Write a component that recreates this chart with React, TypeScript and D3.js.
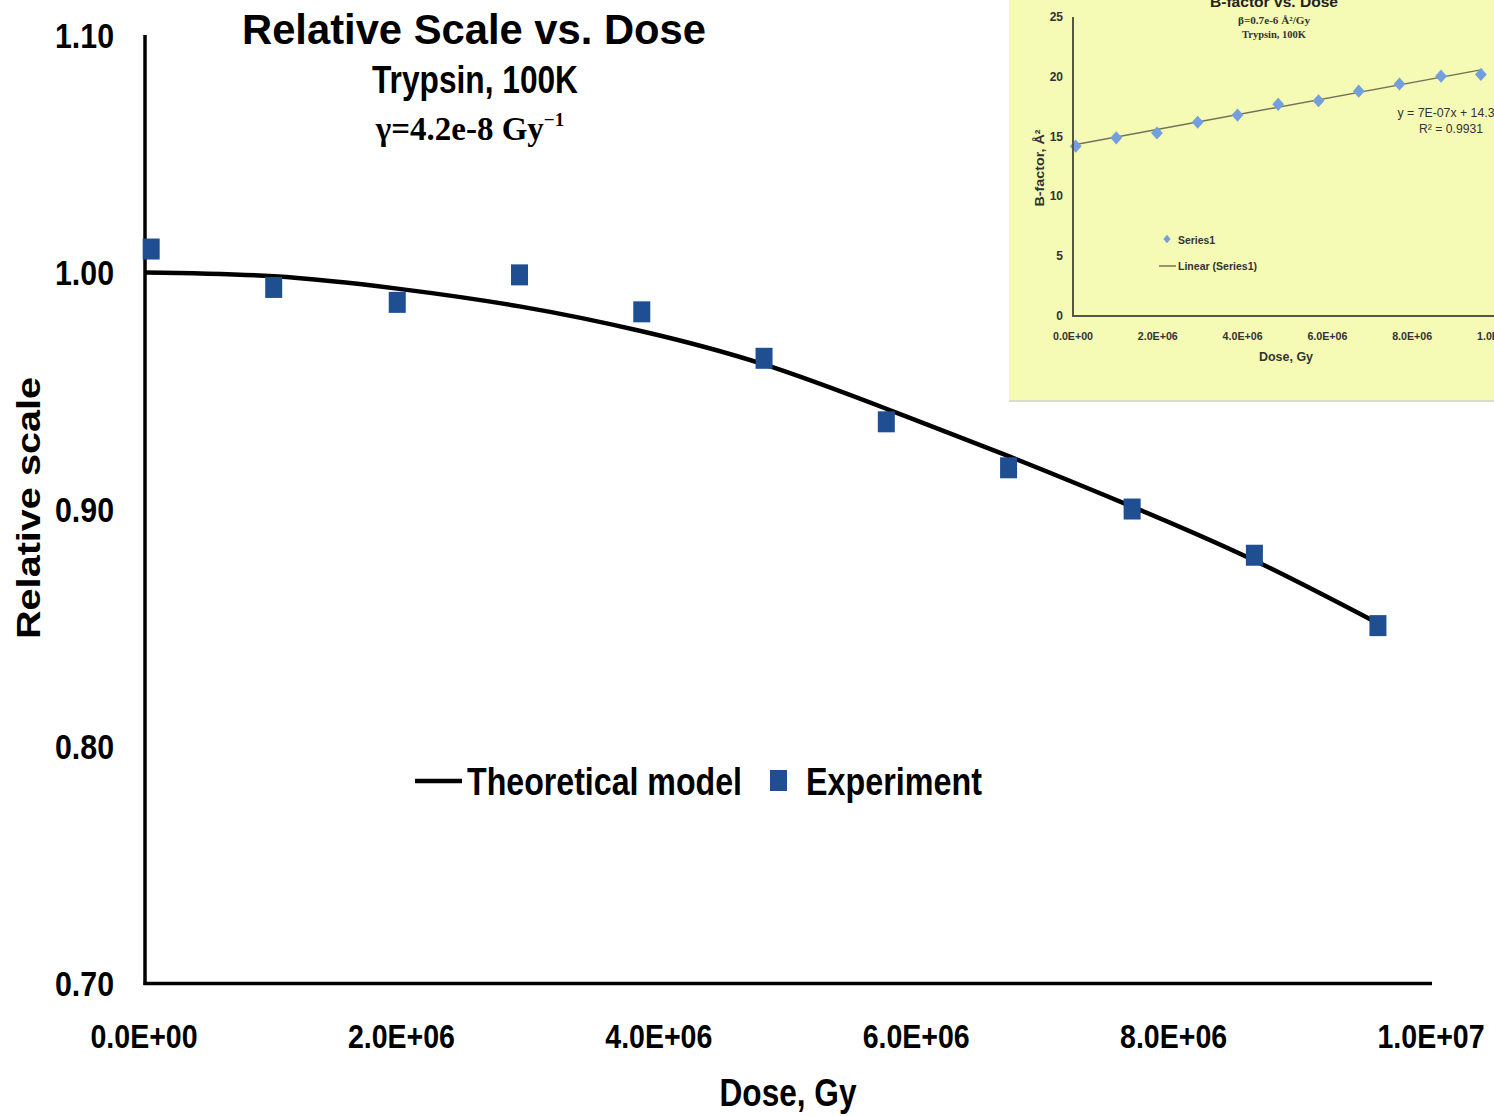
import React from "react";
import * as d3 from "d3";

// ---- Main chart data ----
const expDoses = [0.048e6, 1.0e6, 1.96e6, 2.91e6, 3.86e6, 4.81e6, 5.76e6, 6.71e6, 7.67e6, 8.62e6, 9.58e6];
const expValues = [1.0099, 0.9937, 0.9874, 0.999, 0.9834, 0.9638, 0.937, 0.9176, 0.9002, 0.8807, 0.851];
const modelDoses = [0, 1.0e6, 1.96e6, 2.91e6, 3.86e6, 4.81e6, 5.76e6, 6.71e6, 7.67e6, 8.62e6, 9.58e6];
const modelValues = [1.0, 0.9984, 0.9932, 0.9857, 0.9752, 0.9612, 0.9425, 0.9225, 0.9012, 0.8785, 0.852];
const yTicks = [0.7, 0.8, 0.9, 1.0, 1.1];
const xTicks = [0, 2e6, 4e6, 6e6, 8e6, 1e7];

// ---- Inset chart data ----
const insetDoses = [0.064e6, 1.02e6, 1.98e6, 2.94e6, 3.88e6, 4.84e6, 5.79e6, 6.74e6, 7.7e6, 8.68e6, 9.62e6];
const insetB = [14.2, 14.9, 15.3, 16.2, 16.8, 17.7, 18.0, 18.8, 19.4, 20.05, 20.2];
const trendDoses = [0, 9.65e6];
const trendB = [14.3, 20.6];
const insetYTicks = [0, 5, 10, 15, 20, 25];
const insetXTicks = [0, 2e6, 4e6, 6e6, 8e6, 1e7];

const fmtE = (v: number) => {
  const s = v.toExponential(1).toUpperCase();
  const m = s.match(/^(-?[\d.]+)E([+-])(\d+)$/);
  if (!m) return s;
  return `${m[1]}E${m[2]}${m[3].padStart(2, "0")}`;
};

const SANS = "'Liberation Sans', Arial, sans-serif";
const SERIF = "'Liberation Serif', 'Times New Roman', serif";

export default function App() {
  const W = 1494, H = 1116;
  const x = d3.scaleLinear().domain([0, 1e7]).range([145, 1432]);
  const y = d3.scaleLinear().domain([0.7, 1.1]).range([983.5, 35.5]);

  const model = modelDoses.map((d, i) => [d, modelValues[i]] as [number, number]);
  const line = d3
    .line<[number, number]>()
    .x((d) => x(d[0]))
    .y((d) => y(d[1]))
    .curve(d3.curveNatural);

  const xi = d3.scaleLinear().domain([0, 1e7]).range([1073, 1497]);
  const yi = d3.scaleLinear().domain([0, 25]).range([316, 17]);
  const trend = trendDoses.map((d, i) => [d, trendB[i]] as [number, number]);
  const iline = d3
    .line<[number, number]>()
    .x((d) => xi(d[0]))
    .y((d) => yi(d[1]));
  const diamond = d3.symbol().type(d3.symbolDiamond).size(50)();
  const smallDiamond = d3.symbol().type(d3.symbolDiamond).size(20)();

  return (
    <svg
      width={W}
      height={H}
      viewBox={`0 0 ${W} ${H}`}
      style={{ position: "absolute", left: 0, top: 0, display: "block", background: "#fff" }}
    >
      <rect x={0} y={0} width={W} height={H} fill="#fff" />

      {/* ---- Inset ---- */}
      <g>
        <rect x={1009} y={-2} width={490} height={402} fill="#F5FAB4" />
        <line x1={1009} x2={1494} y1={401} y2={401} stroke="#dcdccc" strokeWidth={2} />
        <text x={1274} y={7} textAnchor="middle" fontFamily={SANS} fontWeight="bold" fontSize={15} fill="#222" textLength={128} lengthAdjust="spacingAndGlyphs">
          B-factor vs. Dose
        </text>
        <text x={1274} y={24} textAnchor="middle" fontFamily={SERIF} fontWeight="bold" fontSize={10} fill="#333" textLength={72} lengthAdjust="spacingAndGlyphs">
          β=0.7e-6 Å²/Gy
        </text>
        <text x={1274} y={38} textAnchor="middle" fontFamily={SERIF} fontWeight="bold" fontSize={10} fill="#333" textLength={64} lengthAdjust="spacingAndGlyphs">
          Trypsin, 100K
        </text>
        {insetYTicks.map((t) => (
          <text key={t} x={1063} y={yi(t) + 4} textAnchor="end" fontFamily={SANS} fontWeight="bold" fontSize={12} fill="#333">
            {t}
          </text>
        ))}
        {insetXTicks.map((t) => (
          <text key={t} x={xi(t)} y={340} textAnchor="middle" fontFamily={SANS} fontWeight="bold" fontSize={11} fill="#333" textLength={40} lengthAdjust="spacingAndGlyphs">
            {fmtE(t)}
          </text>
        ))}
        <text x={1286} y={361} textAnchor="middle" fontFamily={SANS} fontWeight="bold" fontSize={13} fill="#333" textLength={54} lengthAdjust="spacingAndGlyphs">
          Dose, Gy
        </text>
        <text transform="translate(1044,168) rotate(-90)" textAnchor="middle" fontFamily={SANS} fontWeight="bold" fontSize={12} fill="#333" textLength={77} lengthAdjust="spacingAndGlyphs">
          B-factor, Å²
        </text>
        <path d={iline(trend) || ""} fill="none" stroke="#72725c" strokeWidth={1.5} />
        {insetDoses.map((d, i) => (
          <path key={i} d={diamond || ""} transform={`translate(${xi(d)},${yi(insetB[i])}) scale(1.55,1)`} fill="#72A0DE" />
        ))}
        <line x1={1073} x2={1073} y1={17} y2={316} stroke="#55554a" strokeWidth={2} />
        <line x1={1072} x2={1494} y1={316} y2={316} stroke="#55554a" strokeWidth={2} />
        <text x={1446} y={117} textAnchor="middle" fontFamily={SANS} fontSize={12.5} fill="#333" textLength={97} lengthAdjust="spacingAndGlyphs">
          y = 7E-07x + 14.3
        </text>
        <text x={1451} y={133} textAnchor="middle" fontFamily={SANS} fontSize={12.5} fill="#333" textLength={64} lengthAdjust="spacingAndGlyphs">
          R² = 0.9931
        </text>
        {/* inset legend */}
        <path d={smallDiamond || ""} transform="translate(1167,239) scale(1.5,1)" fill="#72A0DE" />
        <text x={1178} y={244} fontFamily={SANS} fontWeight="bold" fontSize={11} fill="#333" textLength={37} lengthAdjust="spacingAndGlyphs">
          Series1
        </text>
        <line x1={1159} x2={1176} y1={266} y2={266} stroke="#72725c" strokeWidth={1.5} />
        <text x={1178} y={270} fontFamily={SANS} fontWeight="bold" fontSize={11} fill="#333" textLength={79} lengthAdjust="spacingAndGlyphs">
          Linear (Series1)
        </text>
      </g>

      {/* ---- Main titles ---- */}
      <text x={474} y={44} textAnchor="middle" fontFamily={SANS} fontWeight="bold" fontSize={43} fill="#000" textLength={464} lengthAdjust="spacingAndGlyphs">
        Relative Scale vs. Dose
      </text>
      <text x={475} y={93} textAnchor="middle" fontFamily={SANS} fontWeight="bold" fontSize={38} fill="#000" textLength={206} lengthAdjust="spacingAndGlyphs">
        Trypsin, 100K
      </text>
      <text x={470} y={140} textAnchor="middle" fontFamily={SERIF} fontWeight="bold" fontSize={33} fill="#000">
        γ=4.2e-8 Gy
        <tspan fontSize={19} dy={-14}>−1</tspan>
      </text>

      {/* ---- Main axes ---- */}
      {yTicks.map((t) => (
        <text key={t} x={114} y={y(t) + 12} textAnchor="end" fontFamily={SANS} fontWeight="bold" fontSize={35} fill="#000" textLength={59} lengthAdjust="spacingAndGlyphs">
          {t.toFixed(2)}
        </text>
      ))}
      {xTicks.map((t) => (
        <text key={t} x={x(t) - 1} y={1048} textAnchor="middle" fontFamily={SANS} fontWeight="bold" fontSize={34} fill="#000" textLength={107} lengthAdjust="spacingAndGlyphs">
          {fmtE(t)}
        </text>
      ))}
      <text x={788} y={1106} textAnchor="middle" fontFamily={SANS} fontWeight="bold" fontSize={38} fill="#000" textLength={137} lengthAdjust="spacingAndGlyphs">
        Dose, Gy
      </text>
      <text transform="translate(40,508) rotate(-90)" textAnchor="middle" fontFamily={SANS} fontWeight="bold" fontSize={34} fill="#000" textLength={262} lengthAdjust="spacingAndGlyphs">
        Relative scale
      </text>

      <line x1={145} x2={145} y1={35} y2={985} stroke="#000" strokeWidth={3.5} />
      <line x1={143.5} x2={1432} y1={983.5} y2={983.5} stroke="#000" strokeWidth={3.5} />

      {/* ---- Series ---- */}
      <path d={line(model) || ""} fill="none" stroke="#000" strokeWidth={4.5} />
      {expDoses.map((d, i) => (
        <rect key={i} x={x(d) - 8.5} y={y(expValues[i]) - 10.5} width={17} height={21} fill="#1F4E91" />
      ))}

      {/* ---- Legend ---- */}
      <line x1={415} x2={462} y1={781} y2={781} stroke="#000" strokeWidth={4.5} />
      <text x={467} y={795} fontFamily={SANS} fontWeight="bold" fontSize={39} fill="#000" textLength={275} lengthAdjust="spacingAndGlyphs">
        Theoretical model
      </text>
      <rect x={770} y={770} width={17} height={21} fill="#1F4E91" />
      <text x={806} y={795} fontFamily={SANS} fontWeight="bold" fontSize={39} fill="#000" textLength={176} lengthAdjust="spacingAndGlyphs">
        Experiment
      </text>
    </svg>
  );
}
